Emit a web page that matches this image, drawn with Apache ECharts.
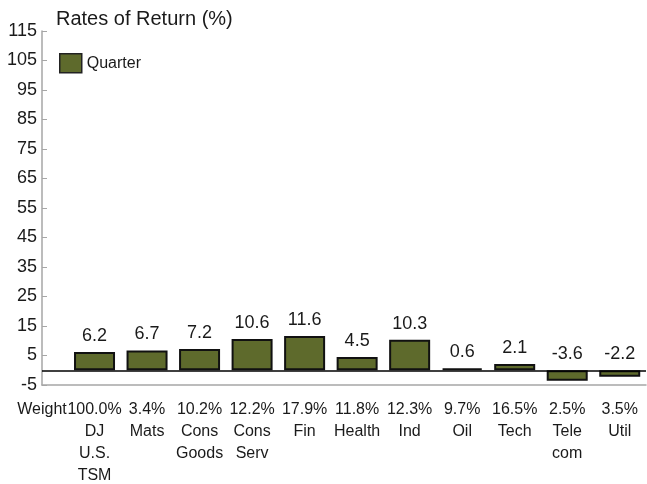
<!DOCTYPE html>
<html>
<head>
<meta charset="utf-8">
<script src="https://cdn.jsdelivr.net/npm/echarts@6/dist/echarts.min.js"></script>
<style>
  html, body { margin: 0; padding: 0; background: #fff; }
  #chart { width: 647px; height: 484px; }
</style>
</head>
<body>
<div id="chart"></div>
<script>
// 数据
const sectors = ['DJ\nU.S.\nTSM', 'Mats', 'Cons\nGoods', 'Cons\nServ', 'Fin', 'Health', 'Ind', 'Oil', 'Tech', 'Tele\ncom', 'Util'];
const weights = ['100.0%', '3.4%', '10.2%', '12.2%', '17.9%', '11.8%', '12.3%', '9.7%', '16.5%', '2.5%', '3.5%'];
const quarter = [6.2, 6.7, 7.2, 10.6, 11.6, 4.5, 10.3, 0.6, 2.1, -3.6, -2.2];
const yTicks = [-5, 5, 15, 25, 35, 45, 55, 65, 75, 85, 95, 105, 115];

const font = '"Liberation Sans", Arial, sans-serif';
const olive = '#5e6a2c';

const chart = echarts.init(document.getElementById('chart'));

// x 用数值轴，-1 处放 "Weight"
const xPositions = [-1].concat(sectors.map(function (s, i) { return i; }));

const option = {
  animation: false,
  textStyle: { fontFamily: font },
  title: {
    text: 'Rates of Return (%)',
    left: 51,
    top: 4,
    textStyle: { fontFamily: font, fontSize: 20, fontWeight: 'normal', color: '#1a1a1a' }
  },
  legend: {
    data: ['Quarter'],
    left: 54,
    top: 48,
    icon: 'rect',
    itemWidth: 22,
    itemHeight: 19,
    itemGap: 6,
    itemStyle: { color: olive, borderColor: '#222', borderWidth: 1.5 },
    textStyle: { fontFamily: font, fontSize: 16, color: '#1a1a1a' }
  },
  grid: { left: 42, right: 1, top: 31, bottom: 99, outerBoundsMode: 'none' },
  xAxis: {
    type: 'value',
    min: -1,
    max: 10.5,
    splitLine: { show: false },
    axisTick: { show: false },
    axisLine: { show: true, onZero: false, lineStyle: { color: '#a6a6a6', width: 1.5 } },
    axisLabel: {
      customValues: xPositions,
      showMinLabel: true,
      margin: 14,
      fontFamily: font,
      fontSize: 16,
      lineHeight: 22,
      color: '#1a1a1a',
      verticalAlign: 'top',
      formatter: function (v) {
        if (v === -1) return 'Weight';
        return weights[v] + '\n' + sectors[v];
      }
    }
  },
  yAxis: {
    type: 'value',
    min: -5,
    max: 115,
    splitLine: { show: false },
    axisLine: { show: true, onZero: false, lineStyle: { color: '#a6a6a6', width: 1.5 } },
    axisTick: { show: true, inside: true, length: 5, customValues: yTicks, lineStyle: { color: '#a6a6a6' } },
    axisLabel: {
      customValues: yTicks,
      margin: 5,
      fontFamily: font,
      fontSize: 18,
      color: '#1a1a1a'
    }
  },
  series: [
    {
      name: 'Quarter',
      type: 'bar',
      barWidth: 41,
      data: quarter.map(function (v, i) { return [i, v]; }),
      itemStyle: { color: olive, borderColor: '#111', borderWidth: 2 },
      label: {
        show: true,
        position: 'top',
        distance: 7,
        fontFamily: font,
        fontSize: 18,
        color: '#1a1a1a',
        formatter: function (p) { return p.value[1].toFixed(1); }
      },
      markLine: {
        silent: true,
        symbol: 'none',
        label: { show: false },
        lineStyle: { color: '#000', width: 1.5, type: 'solid' },
        data: [{ yAxis: 0 }]
      }
    }
  ]
};

chart.setOption(option);
</script>
</body>
</html>
